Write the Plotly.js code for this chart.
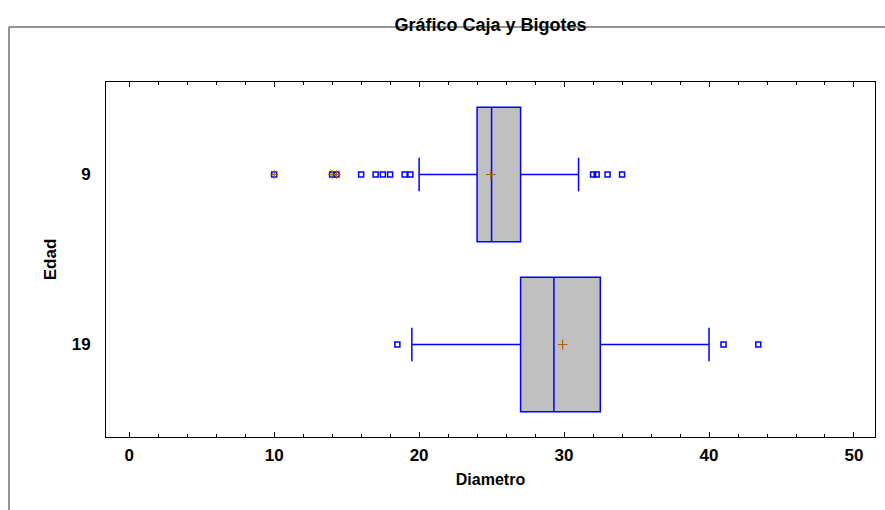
<!DOCTYPE html>
<html>
<head>
<meta charset="utf-8">
<script src="https://cdn.plot.ly/plotly-3.0.1.min.js"></script>
<style>html,body{margin:0;padding:0;background:#fff;}#chart{width:885px;height:510px;}</style>
</head>
<body>
<div id="chart"></div>
<script>
// Categories (Edad)
var categories = ['9', '19'];
// Box statistics per category (Diametro)
var lowerWhisker = [20, 19.5];
var q1Values = [24, 27];
var medianValues = [25, 29.3];
var q3Values = [27, 32.5];
var upperWhisker = [31, 40];
var meanValues = [24.95, 29.9];
// Outside points
var outliers9 = [16, 17, 17.5, 18, 19, 19.4, 32, 32.25, 33, 34];
var farOutliers9 = [10, 14, 14.3];
var outliers19 = [18.5, 41, 43.4];
// X axis ticks
var xTickVals = [0, 10, 20, 30, 40, 50];
var xTickText = ['0', '10', '20', '30', '40', '50'];

function rep(v, n) { var a = []; for (var i = 0; i < n; i++) a.push(v); return a; }

var blue = '#0000ff';
var brown = '#b45f06';
var font = 'Liberation Sans, Arial, sans-serif';

var traces = [
  {
    type: 'box', orientation: 'h', y: categories,
    q1: q1Values, median: medianValues, q3: q3Values,
    lowerfence: lowerWhisker, upperfence: upperWhisker,
    boxpoints: false, boxmean: false,
    width: 0.79, whiskerwidth: 0.25,
    fillcolor: '#c0c0c0', line: {color: blue, width: 1.5},
    hoverinfo: 'skip', showlegend: false
  },
  {
    type: 'scatter', mode: 'markers',
    x: outliers9.concat(farOutliers9),
    y: rep(categories[0], outliers9.length + farOutliers9.length),
    marker: {symbol: 'square-open', size: 5, color: blue, line: {color: blue, width: 1.5}},
    showlegend: false, hoverinfo: 'skip'
  },
  {
    type: 'scatter', mode: 'markers',
    x: outliers19, y: rep(categories[1], outliers19.length),
    marker: {symbol: 'square-open', size: 5, color: blue, line: {color: blue, width: 1.5}},
    showlegend: false, hoverinfo: 'skip'
  },
  {
    type: 'scatter', mode: 'markers',
    x: farOutliers9, y: rep(categories[0], farOutliers9.length),
    marker: {symbol: 'cross-thin-open', size: 6, color: brown, line: {color: brown, width: 1.2}},
    showlegend: false, hoverinfo: 'skip'
  },
  {
    type: 'scatter', mode: 'markers',
    x: meanValues, y: categories,
    marker: {symbol: 'cross-thin-open', size: 7, color: brown, line: {color: brown, width: 1.2}},
    showlegend: false, hoverinfo: 'skip'
  }
];

var layout = {
  width: 885, height: 510,
  margin: {l: 106, r: 10, t: 82, b: 73},
  paper_bgcolor: '#ffffff', plot_bgcolor: '#ffffff',
  font: {family: font, color: '#000', size: 17},
  title: {
    text: 'Gráfico Caja y Bigotes',
    font: {family: font, size: 18, weight: 'bold', color: '#000'},
    x: 0.5, xref: 'paper', xanchor: 'center',
    y: 0.951, yref: 'container', yanchor: 'middle'
  },
  xaxis: {
    range: [-1.6, 51.45],
    tickmode: 'array', tickvals: xTickVals, ticktext: xTickText,
    ticks: 'inside', ticklen: 5, tickwidth: 1, tickcolor: '#000',
    minor: {dtick: 2, tick0: 0, ticks: 'inside', ticklen: 3, tickwidth: 1, tickcolor: '#000', showgrid: false},
    showline: true, linecolor: '#000', linewidth: 1, mirror: 'allticks',
    showgrid: false, zeroline: false,
    ticklabelstandoff: 3,
    tickfont: {family: font, size: 17, weight: 'bold'},
    title: {text: 'Diametro', font: {family: font, size: 16, weight: 'bold'}, standoff: 9}
  },
  yaxis: {
    type: 'category', categoryorder: 'array', categoryarray: categories,
    range: [1.544, -0.544],
    showline: true, linecolor: '#000', linewidth: 1, mirror: true,
    ticks: '', showgrid: false, zeroline: false,
    ticklabelstandoff: 11,
    tickfont: {family: font, size: 17, weight: 'bold'},
    title: {text: 'Edad', font: {family: font, size: 17, weight: 'bold'}, standoff: 10}
  },
  shapes: [
    {type: 'line', xref: 'paper', yref: 'paper', x0: (9 - 106) / 769, x1: (885 - 106) / 769,
     y0: (437 - 27) / 355, y1: (437 - 27) / 355, line: {color: '#707070', width: 1.5}},
    {type: 'line', xref: 'paper', yref: 'paper', x0: (9 - 106) / 769, x1: (9 - 106) / 769,
     y0: (437 - 27) / 355, y1: (437 - 512) / 355, line: {color: '#707070', width: 1.5}}
  ]
};

Plotly.newPlot('chart', traces, layout, {staticPlot: true, displayModeBar: false});
</script>
</body>
</html>
